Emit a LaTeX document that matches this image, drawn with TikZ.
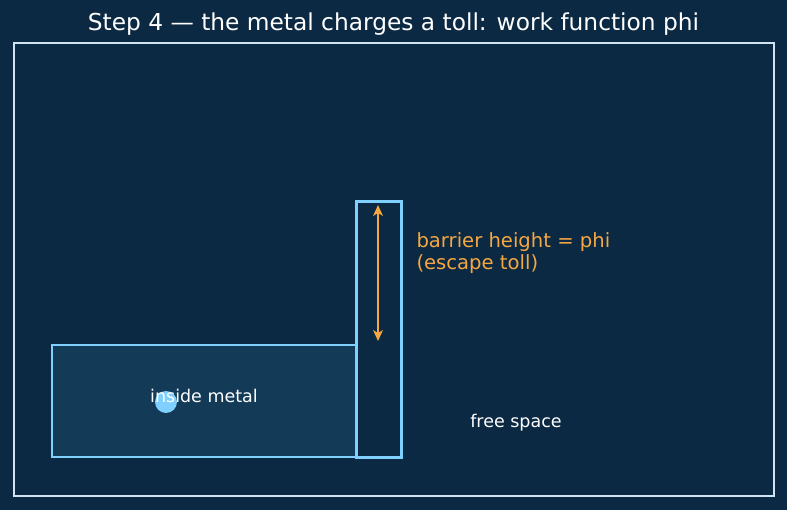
\documentclass[tikz,border=0pt]{standalone}
\usepackage{fontspec}
\setmainfont{DejaVu Sans}
\usetikzlibrary{arrows.meta}
\usetikzlibrary{positioning}
\usetikzlibrary{calc}
\definecolor{bgnavy}{HTML}{0B2942}
\definecolor{metalfill}{HTML}{133A57}
\definecolor{skyline}{HTML}{7FD0FF}
\definecolor{framegrey}{HTML}{CFE3F2}
\definecolor{tollorange}{HTML}{F5A742}
\tikzstyle{frame}=[draw=framegrey,line width=1.3pt]
\tikzstyle{metal}=[draw=skyline,fill=metalfill,line width=1.5pt,inner sep=0pt]
\tikzstyle{barrier}=[draw=skyline,fill=bgnavy,line width=3pt,inner sep=0pt]
\tikzstyle{electron}=[circle,fill=skyline,minimum size=22pt,inner sep=0pt]
\tikzstyle{whitetext} = [text=white,font=\fontsize{17.5}{20}\selectfont]

\begin{document}
\begin{tikzpicture}[x=1pt,y=-1pt]
    % Background and bounding box
    \fill[bgnavy] (0,0) rectangle (787,510);
    \useasboundingbox (0,0) rectangle (787,510);
    \node[text=white,font=\fontsize{23.3}{27}\selectfont] (title) at (393.5,24) {Step 4 --- the metal charges a toll: work function phi};
    \draw[frame] (14,43) rectangle (774,496);

    % First we draw the metal and the barrier
    \node[metal,minimum width=304pt,minimum height=112pt] (metal) at (204,401) {};
    \node[barrier,minimum width=45pt,minimum height=255pt] (barrier) at (378.5,329.5) {};

    % The electron sits in the metal
    \node[electron] (e) at (166,402) {};
    \node[whitetext] (inside) at (204,396) {inside metal};
    \node[whitetext] (free) at (516,423) {free space};

    % Barrier height arrow (shaft and two heads) and its label
    \coordinate (top) at (378,205);
    \coordinate (bot) at (378,341);
    \fill[tollorange] ($(top)+(-1.3,8)$) rectangle ($(bot)+(1.3,-8)$);
    \fill[tollorange] (top) -- ++(-5,11) -- ++(5,-3) -- ++(5,3) -- cycle;
    \fill[tollorange] (bot) -- ++(-5,-11) -- ++(5,3) -- ++(5,-3) -- cycle;
    \node[text=tollorange,font=\fontsize{19.6}{22}\selectfont,align=left,anchor=west] (phi) at (413,253) {barrier height = phi\\(escape toll)};
\end{tikzpicture}
\end{document}
